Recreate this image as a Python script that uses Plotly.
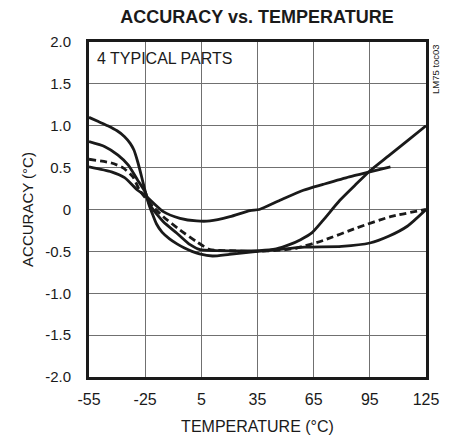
import plotly.graph_objects as go

# Curve data (temperature in °C, accuracy in °C)
part1_x = [-55, -50, -45, -40, -36, -33, -31, -29, -27, -25, -23, -21, -19, -16, -12, -8, -4, 0, 4, 11, 20, 35, 45, 60, 80, 95, 105, 115, 125]
part1_y = [1.10, 1.05, 1.00, 0.94, 0.87, 0.79, 0.71, 0.57, 0.40, 0.22, 0.06, -0.06, -0.17, -0.27, -0.35, -0.41, -0.46, -0.50, -0.53, -0.555, -0.535, -0.50, -0.48, -0.45, -0.44, -0.40, -0.32, -0.20, 0.0]

part2_x = [-55, -46.5, -39.5, -34, -29, -25, -22.4, -15.3, -8.2, -1, 4.3, 13, 36, 45, 52, 58, 64, 70, 79, 88, 95, 105, 115, 125]
part2_y = [0.81, 0.75, 0.65, 0.53, 0.35, 0.21, 0.05, -0.146, -0.28, -0.42, -0.48, -0.49, -0.49, -0.47, -0.42, -0.36, -0.28, -0.13, 0.11, 0.31, 0.46, 0.64, 0.82, 1.0]

part3_x = [-55, -43, -37, -31.5, -28, -20.7, -15.3, -6.4, 2.5, 9.6, 16.6, 35, 50, 56, 70, 88, 106, 125]
part3_y = [0.60, 0.555, 0.50, 0.39, 0.23, 0.03, -0.086, -0.245, -0.385, -0.48, -0.49, -0.50, -0.48, -0.46, -0.37, -0.22, -0.086, 0.0]

part4_x = [-55, -43, -36, -29, -25, -15.3, -6.4, 2.5, 9.6, 20.3, 31, 36, 47, 59.5, 70, 84, 95, 106]
part4_y = [0.51, 0.45, 0.38, 0.23, 0.17, -0.026, -0.105, -0.137, -0.137, -0.086, -0.014, 0.0, 0.11, 0.23, 0.30, 0.39, 0.45, 0.51]

x_ticks = [-55, -25, 5, 35, 65, 95, 125]
y_ticks = [2.0, 1.5, 1.0, 0.5, 0.0, -0.5, -1.0, -1.5, -2.0]
y_tick_labels = ["2.0", "1.5", "1.0", "0.5", "0", "-0.5", "-1.0", "-1.5", "-2.0"]

FONT = "Liberation Sans, Arial, sans-serif"
INK = "#1a1a1a"

fig = go.Figure()
for xs, ys, dash in [(part1_x, part1_y, "solid"), (part2_x, part2_y, "solid"),
                     (part3_x, part3_y, "7px,4px"), (part4_x, part4_y, "solid")]:
    fig.add_trace(go.Scatter(x=xs, y=ys, mode="lines",
                             line=dict(color=INK, width=2.8, dash=dash, shape="spline", smoothing=0.6),
                             showlegend=False, hoverinfo="skip"))

fig.update_layout(
    width=443, height=433,
    margin=dict(l=81, r=25, t=34, b=64),
    paper_bgcolor="white", plot_bgcolor="white",
    font=dict(family=FONT, color=INK, size=15),
    title=dict(text="<b>ACCURACY vs. TEMPERATURE</b>", x=0.562, xanchor="center",
               y=0.980, yanchor="middle", font=dict(family=FONT, size=18, color=INK)),
    xaxis=dict(range=[-55, 125], tickvals=x_ticks, ticktext=[str(v) for v in x_ticks],
               showgrid=True, gridcolor="#707070", gridwidth=1.3,
               showline=True, linecolor=INK, linewidth=3, mirror=True,
               ticks="outside", ticklen=6, tickcolor="rgba(0,0,0,0)", zeroline=False,
               tickfont=dict(size=16), automargin=False,
               title=dict(text="TEMPERATURE (°C)", standoff=14, font=dict(size=16))),
    yaxis=dict(range=[-2, 2], tickvals=y_ticks, ticktext=y_tick_labels,
               showgrid=True, gridcolor="#707070", gridwidth=1.3,
               showline=True, linecolor=INK, linewidth=3, mirror=True,
               ticks="outside", ticklen=12, tickcolor="rgba(0,0,0,0)", zeroline=False,
               tickfont=dict(size=15), automargin=False,
               title=dict(text="ACCURACY (°C)", standoff=8, font=dict(size=15))),
    annotations=[
        dict(text="4 TYPICAL PARTS", x=-52, y=1.8, xref="x", yref="y", xanchor="left",
             yanchor="middle", showarrow=False, font=dict(size=16, color=INK)),
        dict(text="LM75 toc03", x=1.0, y=1.0, xref="paper", yref="paper", xanchor="center",
             yanchor="top", xshift=9, showarrow=False, textangle=-90,
             font=dict(size=9.5, color=INK)),
    ],
)

fig.write_html("out.html")
